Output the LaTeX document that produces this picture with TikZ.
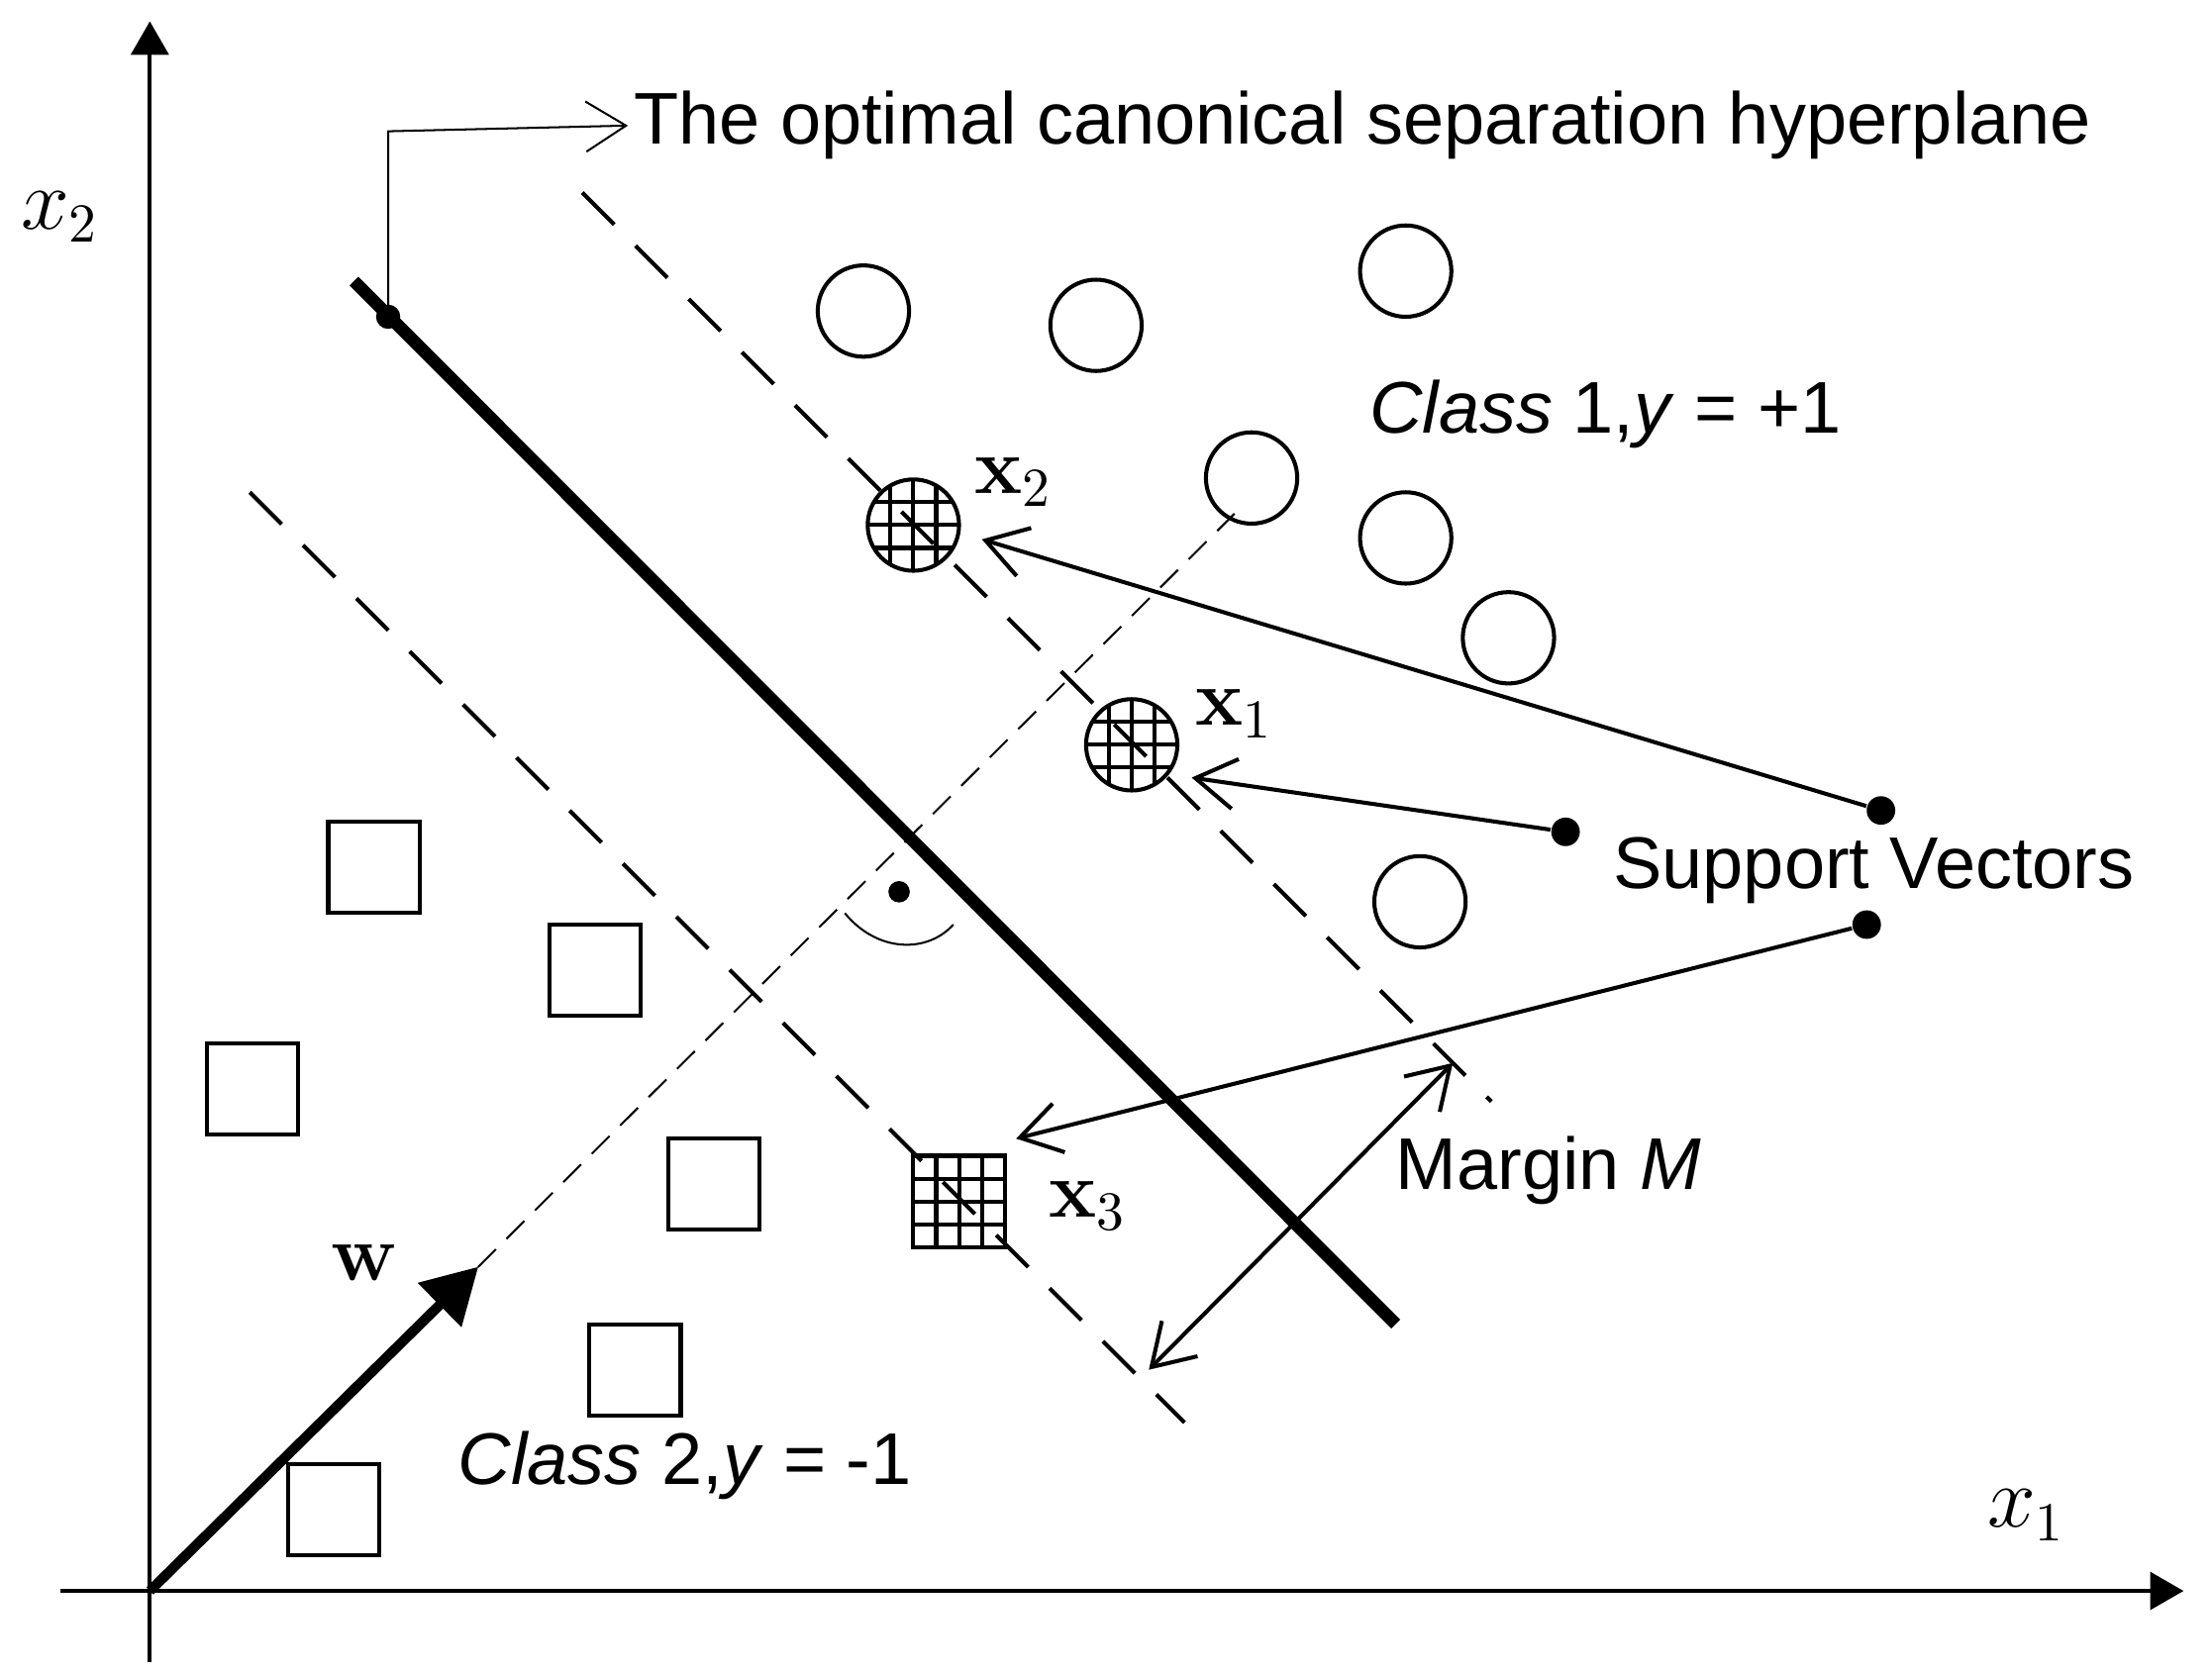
\documentclass[tikz,border=0pt]{standalone}
\usepackage{fontspec}
\setmainfont{Liberation Sans}
\newfontfamily\serif{Latin Modern Roman}
\usepackage{tikz}
\usetikzlibrary{arrows,arrows.meta}
\tikzstyle{cls1} = [circle, draw=black, thick, minimum size=0.64cm, inner sep=0pt]
\tikzstyle{cls2} = [rectangle, draw=black, thick, minimum size=0.64cm, inner sep=0pt]
\tikzstyle{svec} = [path picture={\foreach \t in {-0.16,0,0.16} {
    \draw ([xshift=\t cm]path picture bounding box.north) -- ([xshift=\t cm]path picture bounding box.south);
    \draw ([yshift=\t cm]path picture bounding box.west) -- ([yshift=\t cm]path picture bounding box.east);}}]
\tikzstyle{lbl} = [font=\fontsize{14.6}{17}\selectfont]
\tikzstyle{dot} = [circle, fill=black, minimum size=0.2cm, inner sep=0pt]

\begin{document}
\begin{tikzpicture}[x=0.1mm, y=-0.1mm, >={Straight Barb[length=8pt,width=10pt]}]
    \useasboundingbox (0,0) rectangle (1550,1173);
    % axes
    \coordinate (O) at (105,1115);
    \draw[thick, -triangle 60] (105,1165) -- (105,15);
    \draw[thick, -triangle 60] (42,1115) -- (1530,1115);
    \node[font=\serif\fontsize{16}{18}\selectfont] (xtwo) at (42,152) {$x_2$};
    \node[font=\serif\fontsize{16}{18}\selectfont] (xone) at (1420,1062) {$x_1$};

    % hyperplane and margins
    \draw[line width=2.5pt] (248,197) coordinate (hyp_top) -- (978,928);
    \draw[thick, dash pattern=on 9pt off 6pt] (408,135) -- (1045,772);
    \draw[thick, dash pattern=on 9pt off 6pt] (175,345) -- (830,997);
    \draw[thin, dash pattern=on 5pt off 3pt] (335,888) -- (865,360);
    \node[dot, minimum size=0.15cm] (rdot) at (630,625) {};
    \draw (592,640) .. controls (615,668) and (650,668) .. (668,648);

    % normal vector
    \node (w) at (255,885) {\serif\bfseries\fontsize{16}{18}\selectfont w};
    \draw[line width=2pt, -triangle 60] (O) -- (335,888);

    % class 1
    \foreach \p in {(605,218),(768,228),(985,190),(877,335),(985,377),(1057,447),(995,632)}
        \node[cls1] at \p {};
    \node[cls1, svec] (sv_two) at (640,368) {};
    \node[cls1, svec] (sv_one) at (793,522) {};
    \node (lbl_two) at (710,338) {\serif\bfseries\fontsize{16}{18}\selectfont x$_2$};
    \node (lbl_one) at (865,500) {\serif\bfseries\fontsize{16}{18}\selectfont x$_1$};

    % class 2
    \foreach \p in {(262,608),(417,680),(177,763),(500,830),(445,960),(234,1058)}
        \node[cls2] at \p {};
    \node[cls2, svec] (sv_three) at (672,842) {};
    \node (lbl_three) at (762,845) {\serif\bfseries\fontsize{16}{18}\selectfont x$_3$};

    % labels
    \node[lbl, anchor=west, inner sep=1pt] (hyp_txt) at (440,88) {The optimal canonical separation hyperplane};
    \draw[->] (hyp_top) ++(24,24) -- (272,92) -- (hyp_txt.west);
    \node[fill=black, circle, inner sep=0pt, minimum size=0.17cm] at (272,222) {};
    \node[lbl] (cls_one) at (1125,290) {\textit{Class} 1,\textit{y} = +1};
    \node[lbl] (cls_two) at (480,1027) {\textit{Class} 2,\textit{y} = -1};
    \node[lbl] (sv_txt) at (1313,610) {Support Vectors};
    \node[lbl] (margin) at (1085,820) {Margin \textit{M}};

    % support vector pointers
    \node[dot] (d_a) at (1318,568) {};
    \node[dot] (d_b) at (1097,583) {};
    \node[dot] (d_c) at (1308,648) {};
    \draw[thick, ->] (d_a) -- (688,378);
    \draw[thick, ->] (d_b) -- (835,545);
    \draw[thick, ->] (d_c) -- (712,798);

    % margin
    \draw[thick, <->] (1018,745) -- (805,960);
\end{tikzpicture}
\end{document}
